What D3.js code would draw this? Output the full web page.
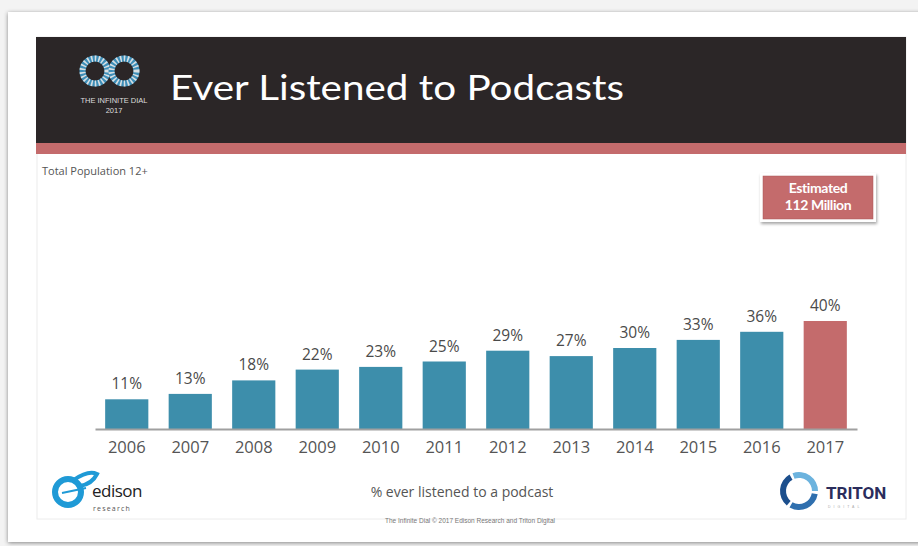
<!DOCTYPE html>
<html><head><meta charset="utf-8">
<script src="https://cdn.jsdelivr.net/npm/d3@7"></script>
<style>body{margin:0;background:#fff}svg{display:block}</style>
</head><body><svg id="c" width="918" height="546"></svg>
<script>
const years = ["2006","2007","2008","2009","2010","2011","2012","2013","2014","2015","2016","2017"];
const values = [11,13,18,22,23,25,29,27,30,33,36,40];
const highlightYear = "2017";
const title = "Ever Listened to Podcasts";
const subtitle = "Total Population 12+";
const calloutLines = ["Estimated","112 Million"];
const xAxisTitle = "% ever listened to a podcast";
const footer = "The Infinite Dial  \u00a9 2017 Edison Research and Triton Digital";

const svg = d3.select("#c");
const defs = svg.append("defs");
const f = defs.append("filter").attr("id","sh").attr("x","-10%").attr("y","-10%").attr("width","120%").attr("height","130%");
f.append("feDropShadow").attr("dx",0).attr("dy",1).attr("stdDeviation",2).attr("flood-color","#000").attr("flood-opacity",0.45);
const f2 = defs.append("filter").attr("id","sh2").attr("x","-20%").attr("y","-20%").attr("width","140%").attr("height","160%");
f2.append("feDropShadow").attr("dx",1).attr("dy",2).attr("stdDeviation",1.5).attr("flood-color","#000").attr("flood-opacity",0.35);

// slide frame
svg.append("rect").attr("x",0).attr("y",0).attr("width",918).attr("height",546).attr("fill","#f3f3f3");
svg.append("rect").attr("x",8).attr("y",12).attr("width",920).attr("height",530).attr("fill","#fff").attr("filter","url(#sh)");
// content panel border
svg.append("rect").attr("x",37).attr("y",37).attr("width",869).attr("height",482).attr("fill","#fff").attr("stroke","#ececec");
// header
svg.append("rect").attr("x",36).attr("y",37).attr("width",870).attr("height",107).attr("fill","#2b2627");
svg.append("rect").attr("x",36).attr("y",143).attr("width",870).attr("height",11).attr("fill","#c46b6c");

// infinite dial logo
const lg = svg.append("g");
[[95,71],[124,71]].forEach(([cx,cy],i)=>{
  lg.append("circle").attr("cx",cx).attr("cy",cy).attr("r",12.5).attr("fill","none")
    .attr("stroke","#3d8eb8").attr("stroke-width",6);
  lg.append("circle").attr("cx",cx).attr("cy",cy).attr("r",12.5).attr("fill","none")
    .attr("stroke","#e8e8e8").attr("stroke-width",6).attr("stroke-dasharray","1.2 1.6")
    .attr("pathLength",60).attr("stroke-opacity",0.9);
});
lg.append("text").attr("x",114).attr("y",103).attr("text-anchor","middle").attr("fill","#ddd")
  .attr("font-family","Liberation Sans Narrow, Arial Narrow, sans-serif").attr("font-size",7.5).text("THE INFINITE DIAL");
lg.append("text").attr("x",114).attr("y",113).attr("text-anchor","middle").attr("fill","#ddd")
  .attr("font-family","Liberation Sans Narrow, sans-serif").attr("font-size",7.5).text("2017");

svg.append("text").attr("x",170).attr("y",100).attr("fill","#fff")
  .attr("font-family","Lato, 'Open Sans', sans-serif").attr("font-size",34)
  .attr("textLength",454).attr("lengthAdjust","spacingAndGlyphs").text(title);

svg.append("text").attr("x",42).attr("y",175).attr("fill","#555")
  .attr("font-family","'Open Sans', sans-serif").attr("font-size",11).text(subtitle);

// callout
svg.append("rect").attr("x",760).attr("y",173).attr("width",116).attr("height",49).attr("fill","#fff").attr("filter","url(#sh2)");
svg.append("rect").attr("x",763).attr("y",176).attr("width",110).attr("height",43).attr("fill","#c46b6c").attr("stroke","#a85556").attr("stroke-width",0.5);
calloutLines.forEach((t,i)=>{
  svg.append("text").attr("x",818).attr("y",193+i*17).attr("text-anchor","middle").attr("fill","#fff")
    .attr("font-family","Lato, sans-serif").attr("font-weight","bold").attr("font-size",14)
    .attr("letter-spacing",-0.4).text(t);
});

// chart
const x = d3.scaleBand().domain(years).range([95,857]).paddingInner(0.32).paddingOuter(0.16);
const y = d3.scaleLinear().domain([0,40]).range([429,321]);

svg.append("g").selectAll("rect").data(years).join("rect")
  .attr("x",d=>x(d)).attr("width",x.bandwidth())
  .attr("y",(d,i)=>y(values[i])).attr("height",(d,i)=>y(0)-y(values[i]))
  .attr("fill",d=>d===highlightYear?"#c46b6c":"#3d8eab");

svg.append("g").selectAll("text").data(years).join("text")
  .attr("x",d=>x(d)+x.bandwidth()/2).attr("y",(d,i)=>y(values[i])-10)
  .attr("text-anchor","middle").attr("fill","#4a4a4a")
  .attr("font-family","'Open Sans', sans-serif").attr("font-size",15.5)
  .text((d,i)=>values[i]+"%");

const ax = svg.append("g").attr("transform",`translate(0,${y(0)})`)
  .call(d3.axisBottom(x).tickSize(0).tickPadding(12));
ax.select(".domain").attr("stroke","#a0a0a0").attr("stroke-width",2);
ax.selectAll("text").attr("fill","#555").attr("font-family","'Open Sans', sans-serif").attr("font-size",16.5);

svg.append("text").attr("x",462).attr("y",497).attr("text-anchor","middle").attr("fill","#555")
  .attr("font-family","'Open Sans', sans-serif").attr("font-size",14).text(xAxisTitle);
svg.append("text").attr("x",470).attr("y",523).attr("text-anchor","middle").attr("fill","#777")
  .attr("font-family","'Liberation Sans', sans-serif").attr("font-size",6.5).text(footer);

// edison logo
const ed = svg.append("g");
ed.append("circle").attr("cx",68).attr("cy",492).attr("r",13).attr("fill","none").attr("stroke","#1f9ad6").attr("stroke-width",6);
ed.append("path").attr("d","M74,480 Q88,470 97,474 Q92,484 80,486").attr("fill","none").attr("stroke","#1f9ad6").attr("stroke-width",4);
ed.append("line").attr("x1",62).attr("y1",493).attr("x2",86).attr("y2",488).attr("stroke","#1f9ad6").attr("stroke-width",2);
ed.append("text").attr("x",92).attr("y",497).attr("fill","#222").attr("font-family","'Open Sans', sans-serif").attr("font-size",17).attr("letter-spacing",-0.5).text("edison");
ed.append("text").attr("x",93).attr("y",511).attr("fill","#555").attr("font-family","'Open Sans', sans-serif").attr("font-size",7).attr("letter-spacing",1.2).text("research");

// triton logo
const tr = svg.append("g");
const arc = d3.arc().innerRadius(13).outerRadius(19);
[[-20,90,"#6cb3de"],[100,210,"#2f6fae"],[220,330,"#1c4f8d"]].forEach(([a0,a1,c])=>{
  tr.append("path").attr("transform","translate(799,491)")
    .attr("d",arc({startAngle:a0*Math.PI/180,endAngle:a1*Math.PI/180})).attr("fill",c);
});
tr.append("text").attr("x",826).attr("y",499).attr("fill","#2b2d5c").attr("font-family","'Liberation Sans Narrow', Roboto, sans-serif")
  .attr("font-weight","bold").attr("font-size",17).text("TRITON");
tr.append("text").attr("x",828).attr("y",508).attr("fill","#aaa").attr("font-family","sans-serif").attr("font-size",3.5).attr("letter-spacing",3).text("DIGITAL");
</script></body></html>
